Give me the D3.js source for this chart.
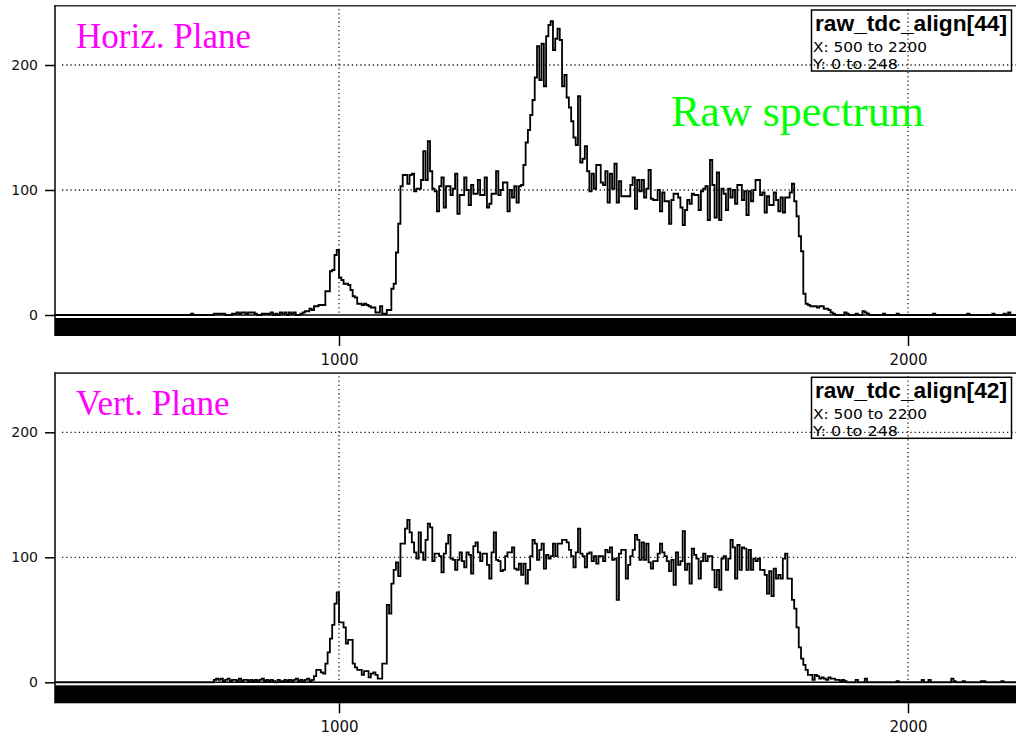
<!DOCTYPE html>
<html>
<head>
<meta charset="utf-8">
<script src="https://cdn.jsdelivr.net/npm/d3@7/dist/d3.min.js"></script>
<style>
  html, body { margin: 0; padding: 0; background: #fff; }
  svg { display: block; }
</style>
</head>
<body>
<svg id="chart" width="1016" height="740"></svg>
<script>
// Histogram binning: 425 bins of width 4 starting at 500
const binStart = 500;
const binWidth = 4;
const xDomain = [500, 2200];
const yDomain = [0, 248];
const xTicks = [1000, 2000];
const yTicks = [0, 100, 200];

const panelTitles = ["Horiz. Plane", "Vert. Plane"];
const boxTitles = ["raw_tdc_align[44]", "raw_tdc_align[42]"];
const boxRanges = ["X: 500 to 2200", "Y: 0 to 248"];
const noteText = "Raw spectrum";

// Counts per bin, horizontal plane
const horizCounts = [
  0,0,0,0,0,0,0,0,0,0, 0,0,0,0,0,0,0,0,0,0, 0,0,0,0,0,0,0,0,0,0,
  0,0,0,0,0,0,0,0,0,0, 0,0,0,0,0,0,0,0,0,0, 0,0,0,0,0,0,0,0,0,0,
  1, 0,0,0,0,0,0,0,0,0,
  1,1,1,1,1,0,0,0,1,1, 2,1,2,2,1,2,2,2,1,0, 0,1,1,1,1,2,0,1,0,2, 1,2,0,2,1,2,0,0,1,
  2,3,3,5,4,7,7,8,8,8,
  19,19,35,36,48,52,30,28,25,25,
  24,20,15,14,9,9,8,9,8,7,
  6,6,2,2,7,1,1,4,4,21,
  25,50,73,103,112,112,
  105,112,113,99,101,101,108,131,108,139,
  115,101,99,83,103,110,86,103,103,96,
  101,113,81,96,96,110,100,88,104,97,
  97,108,96,96,110,86,89,97,97,115,
  96,100,106,106,83,100,94,103,90,103,
  104,120,138,148,160,172,190,215,188,217,
  183,223,232,235,212,221,229,220,183,192,
  174,166,155,142,136,175,122,125,135,115,
  99,113,101,120,120,106,104,115,90,113,
  101,121,90,107,95,95,95,95,104,110,
  85,108,99,108,94,101,116,93,92,92,
  100,83,98,91,91,73,92,97,97,94,
  86,72,84,92,89,97,96,96,84,99,
  101,103,76,124,104,78,114,76,101,97,
  84,101,94,100,89,104,104,92,99,80,
  99,91,100,108,108,96,98,82,95,88,
  88,98,92,83,94,82,94,94,98,105,
  91,79,63,51,17,9,8,7,7,7,
  6,7,7,5,5,4,2,1,0,0,
  0,0,2,1,0,0,0,1,0,0,
  3,2,1,0,0,0,0,0,0,1,
  0,0,0,0,0,1,0,0,0,0,
  0,0,0,0,0,0,0,0,0,0,
  0,1,0,0,0,0,0,0,0,0,
  0,0,0,0,0,0,1,0,0,0,
  0,0,0,0,0,0,0,1,0,0,
  0,0,1,0,2,0,0,0,0,0
];

// Counts per bin, vertical plane
const vertCounts = [
  0,0,0,0,0,0,0,0,0,0, 0,0,0,0,0,0,0,0,0,0, 0,0,0,0,0,0,0,0,0,0,
  0,0,0,0,0,0,0,0,0,0, 0,0,0,0,0,0,0,0,0,0, 0,0,0,0,0,0,0,0,0,0,
  0,0,0,0,0,0,0,0,0,0,
  2,3,2,3,1,2,3,1,2,2, 1,3,1,2,2,1,2,1,2,1, 2,3,1,2,1,2,1,0,2,1, 1,2,1,2,1,2,3,1,2,1, 2,3,1,2,
  5,10,10,8,7,15,24,35,46,63,
  72,48,48,44,31,34,34,15,12,10,
  10,6,9,9,4,7,8,6,3,3,
  15,15,62,55,79,90,96,85,111,111,
  123,130,120,112,104,99,120,104,98,114,
  127,124,97,103,103,101,88,103,111,118,
  99,98,90,98,104,97,92,104,102,87,
  109,112,104,97,103,103,94,83,104,120,
  98,97,89,90,101,104,104,108,91,90,
  95,86,95,79,90,101,114,111,98,106,
  111,91,102,99,101,111,101,111,111,114,
  114,112,106,101,92,104,123,103,101,92,
  103,104,97,101,95,101,101,97,106,104,
  108,98,99,66,103,106,106,83,94,101,
  106,118,114,98,112,98,111,96,
  91,97,97,103,111,104,101,97,89,98,
  78,104,94,97,121,90,95,79,107,102,
  99,83,97,103,97,101,101,90,76,90,
  74,99,101,90,99,114,108,83,110,90,
  108,107,90,106,90,99,97,99,90,90,
  86,71,89,69,91,83,86,83,99,103,
  83,83,66,59,44,28,19,14,10,6,
  6,2,6,5,3,4,3,2,4,3,
  3,2,2,1,2,1,0,0,0,0,
  2,0,0,0,3,0,0,0,0,0,
  0,0,0,0,0,0,0,0,1,0,
  0,0,0,0,0,0,0,0,0,2,
  0,0,2,0,0,0,0,0,0,0,
  0,0,3,1,0,0,0,1,0,0,
  0,0,0,0,0,1,1,0,0,0,
  0,0,0,0,1,0,0,0,0,0,0,0,0
];

const seriesList = [horizCounts, vertCounts];

// ---- layout ----
const W = 1016, H = 740;
const plotLeft = 54.5, plotRight = 1021.8;
const plotHeight = 310;
const panelTops = [5, 372.3];

const svg = d3.select("#chart");
svg.append("rect").attr("width", W).attr("height", H).attr("fill", "#fff");

const x = d3.scaleLinear().domain(xDomain).range([plotLeft, plotRight]);

const tickFont = "'DejaVu Sans', sans-serif";

seriesList.forEach((counts, p) => {
  const top = panelTops[p];
  const y = d3.scaleLinear().domain(yDomain).range([top + plotHeight, top]);
  const y0 = y(0);
  const g = svg.append("g");

  // dotted grid
  g.selectAll("line.hgrid").data(yTicks.filter(v => v > 0)).join("line")
    .attr("x1", 62).attr("x2", W)
    .attr("y1", d => y(d)).attr("y2", d => y(d))
    .attr("stroke", "#222").attr("stroke-width", 1.3)
    .attr("stroke-dasharray", "1.3,2.9");
  g.selectAll("line.vgrid").data(xTicks).join("line")
    .attr("x1", d => x(d)).attr("x2", d => x(d))
    .attr("y1", top + 4).attr("y2", y0)
    .attr("stroke", "#222").attr("stroke-width", 1.3)
    .attr("stroke-dasharray", "1.3,2.9");

  // histogram as a step line
  const pts = counts.map((c, i) => [binStart + i * binWidth, c]);
  pts.push([binStart + counts.length * binWidth, counts[counts.length - 1]]);
  const line = d3.line()
    .x(d => x(d[0]))
    .y(d => y(d[1]))
    .curve(d3.curveStepAfter);
  g.append("path")
    .attr("d", line(pts))
    .attr("fill", "none")
    .attr("stroke", "#000")
    .attr("stroke-width", 1.8)
    .attr("stroke-linejoin", "miter");

  // frame: top edge and left edge
  g.append("line").attr("x1", 55).attr("x2", W).attr("y1", top + 0.8).attr("y2", top + 0.8)
    .attr("stroke", "#333").attr("stroke-width", 1.6);
  g.append("line").attr("x1", 55).attr("x2", 55).attr("y1", top).attr("y2", y0 + 21)
    .attr("stroke", "#000").attr("stroke-width", 1.5);

  // zero line
  g.append("line").attr("x1", 55).attr("x2", W).attr("y1", y0).attr("y2", y0)
    .attr("stroke", "#000").attr("stroke-width", 1.5);

  // solid bar below the zero line
  g.append("rect").attr("x", 55).attr("y", y0 + 3).attr("width", W - 55).attr("height", 18)
    .attr("fill", "#000");

  // y axis
  const yAxis = d3.axisLeft(y).tickValues(yTicks).tickSize(10).tickPadding(7)
    .tickFormat(d3.format("d"));
  const ya = g.append("g").attr("transform", "translate(55,0)").call(yAxis);
  ya.select(".domain").remove();
  ya.selectAll(".tick line").attr("stroke", "#000").attr("stroke-width", 1.5);
  ya.selectAll(".tick text").attr("font-family", tickFont).attr("font-size", 14)
    .attr("fill", "#111");

  // x axis under the bar
  const xAxis = d3.axisBottom(x).tickValues(xTicks).tickSize(10).tickPadding(8)
    .tickFormat(d3.format("d"));
  const xa = g.append("g").attr("transform", `translate(0,${y0 + 21})`).call(xAxis);
  xa.select(".domain").remove();
  xa.selectAll(".tick line").attr("stroke", "#000").attr("stroke-width", 1.5);
  xa.selectAll(".tick text").attr("font-family", tickFont).attr("font-size", 15)
    .attr("fill", "#111");

  // statistics box
  const bx = 811.5, by = top + 5;
  g.append("rect").attr("x", bx).attr("y", by).attr("width", 200).attr("height", 61)
    .attr("fill", "none").attr("stroke", "#000").attr("stroke-width", 1.5);
  g.append("text").attr("x", 815).attr("y", by + 21)
    .attr("font-family", "'Liberation Sans', Arial, sans-serif")
    .attr("font-weight", "bold").attr("font-size", 22)
    .attr("textLength", 192).attr("lengthAdjust", "spacingAndGlyphs")
    .attr("fill", "#000").text(boxTitles[p]);
  const rangeLengths = [114, 85];
  boxRanges.forEach((t, k) => {
    g.append("text").attr("x", 813).attr("y", by + 42 + k * 17)
      .attr("font-family", tickFont).attr("font-size", 14)
      .attr("textLength", rangeLengths[k]).attr("lengthAdjust", "spacingAndGlyphs")
      .attr("fill", "#000").text(t);
  });

  // panel caption
  g.append("text").attr("x", 76).attr("y", top + 42.7)
    .attr("font-family", "'Liberation Serif', 'Times New Roman', serif")
    .attr("font-size", 35).attr("fill", "#ff00ff").text(panelTitles[p]);
});

svg.append("text").attr("x", 671).attr("y", 126)
  .attr("font-family", "'Liberation Serif', 'Times New Roman', serif")
  .attr("font-size", 44).attr("fill", "#00ff00").text(noteText);
</script>
</body>
</html>
